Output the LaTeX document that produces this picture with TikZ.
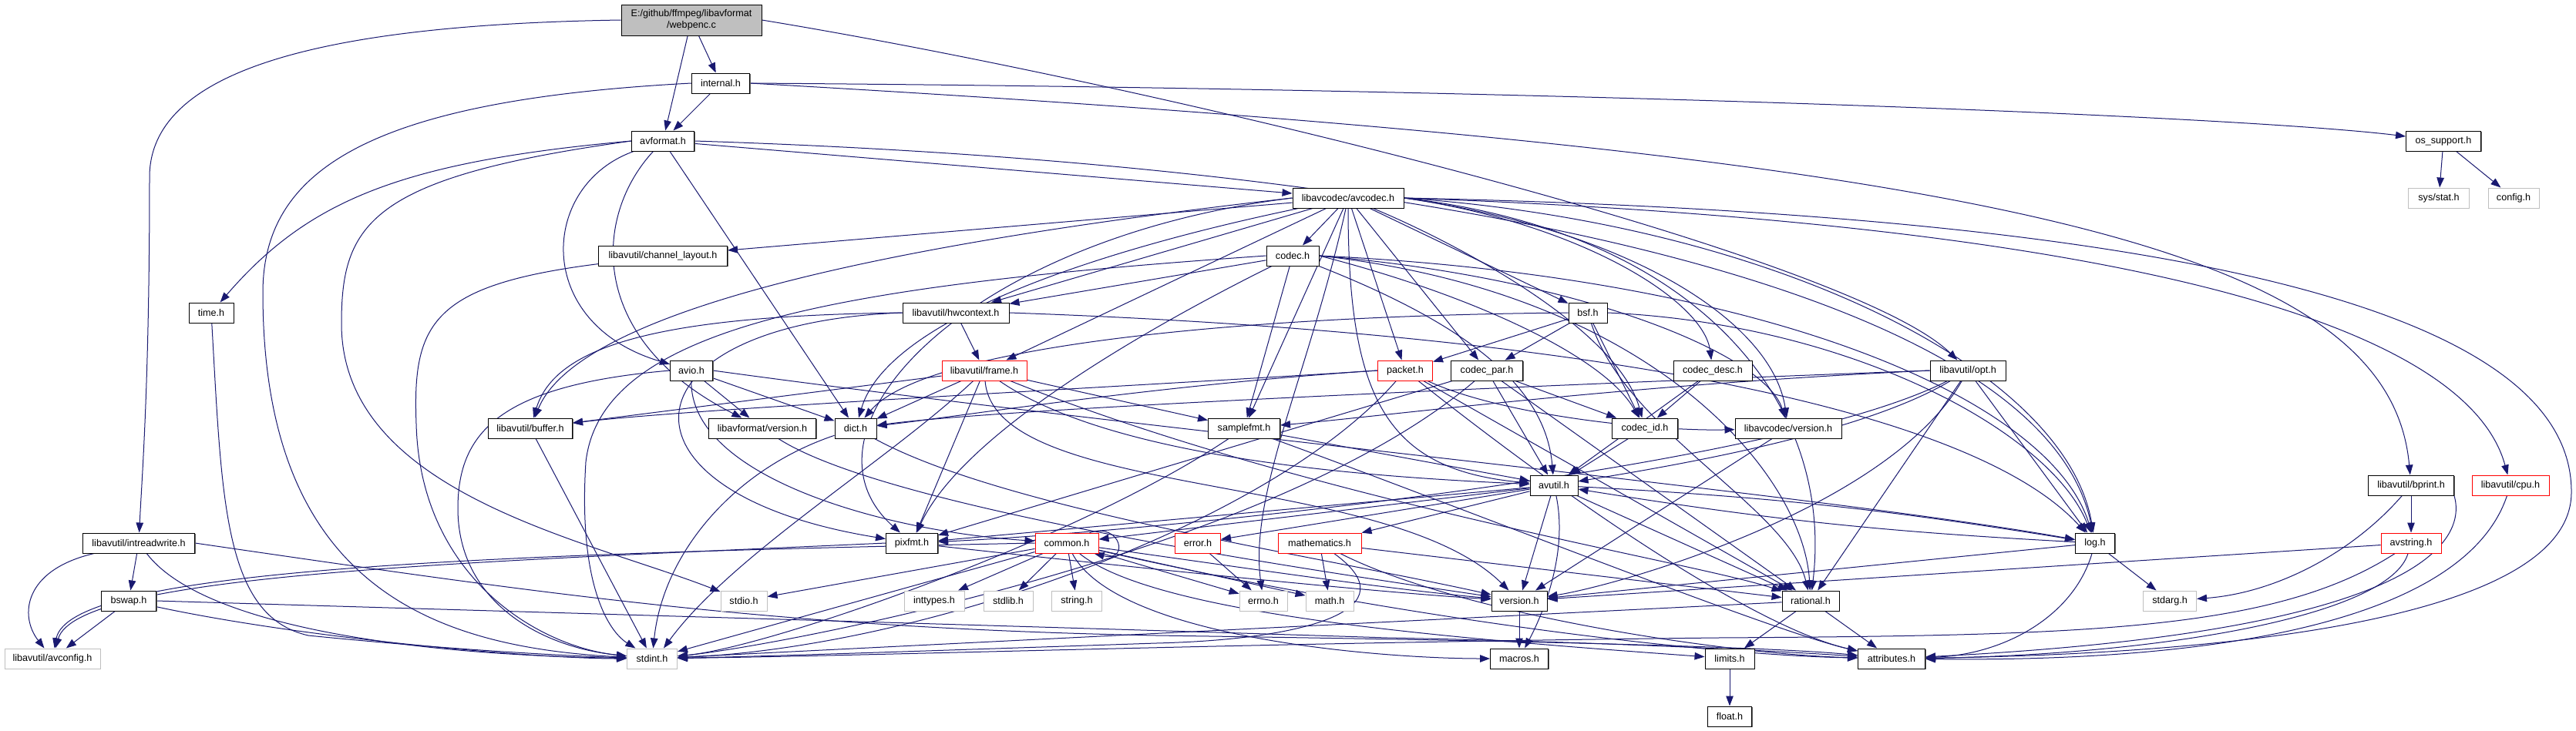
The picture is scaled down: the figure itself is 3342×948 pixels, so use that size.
\documentclass[tikz,border=0pt]{standalone}
\usepackage{fontspec}
\setmainfont{Liberation Sans}
\usetikzlibrary{arrows.meta,shadows}
\definecolor{edgec}{HTML}{191970}
\definecolor{grayb}{HTML}{BFBFBF}
\pgfdeclarelayer{bg}
\pgfsetlayers{bg,main}
\tikzset{
 plainbox/.style={line width=1pt, fill=white, minimum height=26pt, inner sep=0pt, font=\fontsize{12.6}{15}\selectfont, text=black},
 nbox/.style={plainbox, draw=black, drop shadow={shadow xshift=1.3pt, shadow yshift=-1.3pt, fill=black!60, opacity=1}},
 redbox/.style={plainbox, draw=red},
 sysbox/.style={plainbox, draw=grayb},
 dep/.style={draw=edgec, line width=1pt, -{Triangle[length=13pt,width=9.5pt]}},
}
\begin{document}
\begin{tikzpicture}[x=1pt,y=-1pt]
\begin{pgfonlayer}{bg}
\fill[white] (0,0) rectangle (3342,948);
\end{pgfonlayer}
\useasboundingbox (0,0) rectangle (3342,948);
\node[nbox,fill=grayb,minimum width=182pt,minimum height=40pt,align=center] (webpenc) at (897,26) {E:/github/ffmpeg/libavformat\\/webpenc.c};
\node[nbox,minimum width=75pt] (internal) at (935,108) {internal.h};
\node[nbox,minimum width=81pt] (avformat) at (860,183) {avformat.h};
\node[nbox,minimum width=144pt] (avcodec) at (1749,257) {libavcodec/avcodec.h};
\node[nbox,minimum width=97pt] (ossupport) at (3170,183) {os\_support.h};
\node[sysbox,minimum width=79pt] (sysstat) at (3164,257) {sys/stat.h};
\node[sysbox,minimum width=66pt] (config) at (3261,257) {config.h};
\node[nbox,minimum width=167pt] (chlayout) at (860,332) {libavutil/channel\_layout.h};
\node[nbox,minimum width=68pt] (codec) at (1677,332) {codec.h};
\node[nbox,minimum width=58pt] (time) at (274,406) {time.h};
\node[nbox,minimum width=138pt] (hwcontext) at (1240,406) {libavutil/hwcontext.h};
\node[nbox,minimum width=50pt] (bsf) at (2060,406) {bsf.h};
\node[nbox,minimum width=55pt] (avio) at (897,481) {avio.h};
\node[redbox,minimum width=110pt] (frame) at (1277,481) {libavutil/frame.h};
\node[redbox,minimum width=71pt] (packet) at (1823,481) {packet.h};
\node[nbox,minimum width=93pt] (codecpar) at (1929,481) {codec\_par.h};
\node[nbox,minimum width=102pt] (codecdesc) at (2222,481) {codec\_desc.h};
\node[nbox,minimum width=98pt] (opt) at (2553,481) {libavutil/opt.h};
\node[nbox,minimum width=109pt] (buffer) at (688,556) {libavutil/buffer.h};
\node[nbox,minimum width=139pt] (lavfversion) at (989,556) {libavformat/version.h};
\node[nbox,minimum width=54pt] (dict) at (1110,556) {dict.h};
\node[nbox,minimum width=93pt] (samplefmt) at (1614,556) {samplefmt.h};
\node[nbox,minimum width=85pt] (codecid) at (2134,556) {codec\_id.h};
\node[nbox,minimum width=138pt] (lavcversion) at (2320,556) {libavcodec/version.h};
\node[nbox,minimum width=62pt] (avutil) at (2016,630) {avutil.h};
\node[nbox,minimum width=111pt] (bprint) at (3128,630) {libavutil/bprint.h};
\node[redbox,minimum width=100pt] (cpu) at (3257,630) {libavutil/cpu.h};
\node[nbox,minimum width=145pt] (intrw) at (180,705) {libavutil/intreadwrite.h};
\node[nbox,minimum width=67pt] (pixfmt) at (1183,705) {pixfmt.h};
\node[redbox,minimum width=82pt] (common) at (1384,705) {common.h};
\node[redbox,minimum width=59pt] (error) at (1554,705) {error.h};
\node[redbox,minimum width=108pt] (mathematics) at (1712,705) {mathematics.h};
\node[nbox,minimum width=51pt] (log) at (2718,705) {log.h};
\node[redbox,minimum width=78pt] (avstring) at (3128,705) {avstring.h};
\node[nbox,minimum width=71pt] (bswap) at (167,780) {bswap.h};
\node[sysbox,minimum width=60pt] (stdio) at (965,780) {stdio.h};
\node[sysbox,minimum width=78pt] (inttypes) at (1212,780) {inttypes.h};
\node[sysbox,minimum width=64pt] (stdlib) at (1308,780) {stdlib.h};
\node[sysbox,minimum width=65pt] (string) at (1397,780) {string.h};
\node[sysbox,minimum width=62pt] (errno) at (1639,780) {errno.h};
\node[sysbox,minimum width=62pt] (math) at (1725,780) {math.h};
\node[nbox,minimum width=72pt] (version) at (1971,780) {version.h};
\node[nbox,minimum width=74pt] (rational) at (2349,780) {rational.h};
\node[sysbox,minimum width=69pt] (stdarg) at (2815,780) {stdarg.h};
\node[sysbox,minimum width=124pt] (avconfig) at (68,855) {libavutil/avconfig.h};
\node[sysbox,minimum width=65pt] (stdint) at (846,855) {stdint.h};
\node[nbox,minimum width=75pt] (macros) at (1971,855) {macros.h};
\node[nbox,minimum width=64pt] (limits) at (2244,855) {limits.h};
\node[nbox,minimum width=87pt] (attributes) at (2454,855) {attributes.h};
\node[nbox,minimum width=57pt] (float) at (2244,930) {float.h};

\begin{pgfonlayer}{bg}
% webpenc
\draw[dep] (webpenc) -- (internal);
\draw[dep] (webpenc) -- (avformat);
\draw[dep] (webpenc.west) .. controls (420,32) and (194,90) .. (194,230) .. controls (194,500) and (184,620) .. (intrw);
\draw[dep] (webpenc.east) .. controls (1500,110) and (2400,330) .. (opt);
% internal
\draw[dep] (internal) -- (avformat);
\draw[dep] (internal.east) .. controls (2000,115) and (2900,150) .. (ossupport);
\draw[dep] (internal.east) .. controls (2600,200) and (3100,320) .. (bprint);
\draw[dep] (internal.west) .. controls (480,130) and (341,220) .. (341,380) .. controls (341,760) and (560,840) .. (stdint);
% avformat
\draw[dep] (avformat) -- (avcodec);
\draw[dep] (avformat.east) .. controls (1900,215) and (2650,380) .. (log);
\draw[dep] (avformat.west) .. controls (520,210) and (400,260) .. (time);
\draw[dep] (avformat.west) .. controls (480,230) and (443,290) .. (443,420) .. controls (443,640) and (760,700) .. (stdio);
\draw[dep] (avformat) .. controls (700,240) and (690,420) .. (avio);
\draw[dep] (avformat) .. controls (770,280) and (760,440) .. (lavfversion);
\draw[dep] (avformat) -- (dict);
% avio
\draw[dep] (avio.west) .. controls (650,500) and (594,560) .. (594,660) .. controls (594,780) and (700,840) .. (stdint);
\draw[dep] (avio) .. controls (895,620) and (1150,690) .. (common);
\draw[dep] (avio) -- (dict);
\draw[dep] (avio.east) .. controls (1500,560) and (2350,640) .. (log);
\draw[dep] (avio) -- (lavfversion);
% lavfversion
\draw[dep] (lavfversion) .. controls (1150,660) and (1700,740) .. (version);
% avcodec
\draw[dep] (avcodec) .. controls (1700,480) and (1620,640) .. (errno);
\draw[dep] (avcodec) -- (samplefmt);
\draw[dep] (avcodec.east) .. controls (2900,280) and (3338,420) .. (3336,640) .. controls (3334,820) and (2800,850) .. (attributes);
\draw[dep] (avcodec.south) .. controls (1749,520) and (1800,610) .. (avutil);
\draw[dep] (avcodec.west) .. controls (1300,300) and (760,380) .. (buffer);
\draw[dep] (avcodec.east) .. controls (2750,290) and (3200,420) .. (cpu);
\draw[dep] (avcodec) -- (chlayout);
\draw[dep] (avcodec) .. controls (1400,330) and (1150,420) .. (dict);
\draw[dep] (avcodec) -- (frame);
\draw[dep] (avcodec) -- (hwcontext);
\draw[dep] (avcodec.east) .. controls (2300,290) and (2680,480) .. (log);
\draw[dep] (avcodec.west) .. controls (1250,310) and (1020,560) .. (pixfmt);
\draw[dep] (avcodec.east) .. controls (2200,300) and (2380,520) .. (rational);
\draw[dep] (avcodec) -- (bsf);
\draw[dep] (avcodec) -- (codec);
\draw[dep] (avcodec.east) .. controls (2050,290) and (2210,390) .. (codecdesc);
\draw[dep] (avcodec) -- (codecpar);
\draw[dep] (avcodec) .. controls (1900,320) and (2100,430) .. (codecid);
\draw[dep] (avcodec) -- (packet);
\draw[dep] (avcodec.east) .. controls (2120,300) and (2300,420) .. (lavcversion);
% codec
\draw[dep] (codec.west) .. controls (1100,370) and (780,420) .. (760,600) .. controls (750,760) and (790,820) .. (stdint);
\draw[dep] (codec) .. controls (1900,420) and (2005,500) .. (avutil);
\draw[dep] (codec) -- (hwcontext);
\draw[dep] (codec.east) .. controls (2300,360) and (2660,520) .. (log);
\draw[dep] (codec) .. controls (1500,420) and (1250,560) .. (pixfmt);
\draw[dep] (codec.east) .. controls (2150,380) and (2340,620) .. (rational);
\draw[dep] (codec) -- (samplefmt);
\draw[dep] (codec.east) .. controls (1900,380) and (2080,460) .. (codecid);
\draw[dep] (codec.east) .. controls (2050,360) and (2290,460) .. (lavcversion);
% bsf
\draw[dep] (bsf.west) .. controls (1600,410) and (1200,450) .. (dict);
\draw[dep] (bsf.east) .. controls (2400,420) and (2660,560) .. (log);
\draw[dep] (bsf) .. controls (2110,560) and (2320,660) .. (rational);
\draw[dep] (bsf) -- (codecid);
\draw[dep] (bsf) -- (codecpar);
\draw[dep] (bsf) -- (packet);
% codec_desc
\draw[dep] (codecdesc) -- (avutil);
\draw[dep] (codecdesc) -- (codecid);
% codec_par
\draw[dep] (codecpar) .. controls (1650,720) and (1000,840) .. (stdint);
\draw[dep] (codecpar) -- (avutil);
\draw[dep] (codecpar) -- (rational);
\draw[dep] (codecpar) -- (pixfmt);
\draw[dep] (codecpar) -- (codecid);
% codec_id
\draw[dep] (codecid) -- (avutil);
% packet
\draw[dep] (packet) .. controls (1650,680) and (1200,840) .. (stdint);
\draw[dep] (packet) .. controls (2100,700) and (2300,820) .. (attributes);
\draw[dep] (packet.west) .. controls (1500,500) and (900,530) .. (buffer);
\draw[dep] (packet.west) .. controls (1500,500) and (1250,540) .. (dict);
\draw[dep] (packet) -- (rational);
\draw[dep] (packet) .. controls (1950,540) and (2150,560) .. (lavcversion);
% frame
\draw[dep] (frame) .. controls (1150,600) and (950,720) .. ([xshift=-18pt]stdint.north east);
\draw[dep] (frame) .. controls (1450,600) and (1800,620) .. (avutil);
\draw[dep] (frame) -- (buffer);
\draw[dep] (frame) -- (dict);
\draw[dep] (frame) .. controls (1700,650) and (2200,730) .. (rational);
\draw[dep] (frame) -- (samplefmt);
\draw[dep] (frame) -- (pixfmt);
\draw[dep] (frame) .. controls (1290,650) and (1800,610) .. (version);
% hwcontext
\draw[dep] (hwcontext.west) .. controls (850,410) and (720,450) .. (buffer);
\draw[dep] (hwcontext) -- (frame);
\draw[dep] (hwcontext.east) .. controls (2000,430) and (2550,520) .. (log);
\draw[dep] (hwcontext.west) .. controls (800,420) and (780,640) .. (pixfmt);
% lavcversion
\draw[dep] (lavcversion) -- (version);
% dict
\draw[dep] (dict) .. controls (950,610) and (860,720) .. (stdint);
\draw[dep] (dict) .. controls (1300,660) and (1700,720) .. (version);
% samplefmt
\draw[dep] (samplefmt) .. controls (1400,700) and (1000,840) .. (stdint);
\draw[dep] (samplefmt) -- (avutil);
\draw[dep] (samplefmt) .. controls (1900,660) and (2300,820) .. (attributes);
% opt
\draw[dep] (opt) -- (rational);
\draw[dep] (opt) .. controls (2420,560) and (2200,600) .. (avutil);
\draw[dep] (opt.west) .. controls (2000,500) and (1300,530) .. (dict);
\draw[dep] (opt) -- (log);
\draw[dep] (opt) .. controls (2300,610) and (1500,690) .. (pixfmt);
\draw[dep] (opt.west) .. controls (2100,500) and (1800,540) .. (samplefmt);
\draw[dep] (opt) .. controls (2450,660) and (2100,760) .. (version);
% avutil
\draw[dep] (avutil) -- (common);
\draw[dep] (avutil) -- (error);
\draw[dep] (avutil) -- (rational);
\draw[dep] (avutil) -- (version);
\draw[dep] (avutil) .. controls (2035,720) and (2000,800) .. (macros);
\draw[dep] (avutil) -- (mathematics);
\draw[dep] (avutil) to[bend left=3] (log);
\draw[dep] (avutil) -- (pixfmt);
% log
\draw[dep] (log) -- (stdarg);
\draw[dep] (log) to[bend left=3] (avutil);
\draw[dep] (log) .. controls (2690,800) and (2600,850) .. (attributes);
\draw[dep] (log) -- (version);
% common
\draw[dep] ([xshift=-12pt]common.north east) .. controls (1455,678) and (1465,730) .. ([xshift=-6pt]common.south east);
\draw[dep] (common) -- (inttypes);
\draw[dep] (common) -- (stdlib);
\draw[dep] (common) -- (string);
\draw[dep] (common) -- (errno);
\draw[dep] (common) -- (math);
\draw[dep] (common) -- (stdio);
\draw[dep] (common) -- (stdint);
\draw[dep] (common) .. controls (1500,800) and (1900,830) .. (limits);
\draw[dep] (common) .. controls (1800,800) and (2200,850) .. (attributes);
\draw[dep] (common) .. controls (1450,830) and (1800,855) .. (macros);
\draw[dep] (common) .. controls (1600,735) and (1800,765) .. (version);
\draw[dep] (common.west) .. controls (600,720) and (90,740) .. (avconfig);
% error, mathematics
\draw[dep] (error) -- (errno);
\draw[dep] (mathematics) -- (math);
\draw[dep] (mathematics) .. controls (1830,790) and (1700,830) .. (1500,835) .. controls (1200,845) and (1000,852) .. (stdint);
\draw[dep] (mathematics) .. controls (1900,800) and (2250,850) .. (attributes);
\draw[dep] (mathematics) -- (rational);
% pixfmt
\draw[dep] (pixfmt.west) .. controls (600,730) and (100,745) .. (avconfig);
\draw[dep] (pixfmt) .. controls (1500,740) and (1800,770) .. (version);
% version, rational, limits
\draw[dep] (version) -- (macros);
\draw[dep] (rational) -- (stdint);
\draw[dep] (rational) -- (limits);
\draw[dep] (rational) -- (attributes);
\draw[dep] (limits) -- (float);
% bprint
\draw[dep] (bprint) .. controls (3050,720) and (2950,770) .. (stdarg);
\draw[dep] (bprint.south east) .. controls (3200,700) and (3150,820) .. (attributes);
\draw[dep] (bprint) -- (avstring);
% avstring
\draw[dep] (avstring) -- (version);
\draw[dep] (avstring) .. controls (2950,820) and (2700,825) .. (2228,828) .. controls (1600,835) and (1200,850) .. (stdint);
\draw[dep] (avstring) .. controls (3100,800) and (2800,850) .. (attributes);
% cpu
\draw[dep] (cpu) .. controls (3200,800) and (2900,860) .. (attributes);
% os_support
\draw[dep] (ossupport) -- (sysstat);
\draw[dep] (ossupport) -- (config);
% intreadwrite
\draw[dep] (intrw) .. controls (30,740) and (25,800) .. (avconfig);
\draw[dep] (intrw) -- (bswap);
\draw[dep] (intrw) .. controls (260,810) and (520,850) .. (stdint);
\draw[dep] (intrw.east) .. controls (700,770) and (1000,815) .. (1500,825) .. controls (2000,832) and (2300,840) .. (attributes);
% bswap
\draw[dep] (bswap) -- (avconfig);
\draw[dep] (bswap) .. controls (400,830) and (700,855) .. (stdint);
\draw[dep] (bswap.east) .. controls (700,795) and (1400,815) .. (1800,828) .. controls (2100,834) and (2300,845) .. (attributes);
% time, channel_layout, buffer
\draw[dep] (time) .. controls (288,650) and (290,800) .. (400,825) .. controls (600,845) and (750,852) .. (stdint);
\draw[dep] (chlayout) .. controls (560,370) and (535,420) .. (540,550) .. controls (545,750) and (700,840) .. (stdint);
\draw[dep] (buffer) -- (stdint);
\end{pgfonlayer}
\end{tikzpicture}
\end{document}
